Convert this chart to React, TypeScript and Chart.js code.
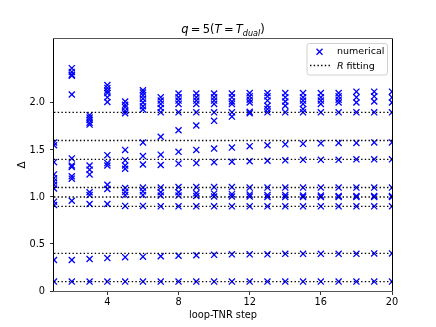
import React, { useEffect, useRef } from "react";
import { Chart, registerables } from "chart.js";

Chart.register(...registerables);

const steps = [1, 2, 3, 4, 5, 6, 7, 8, 9, 10, 11, 12, 13, 14, 15, 16, 17, 18, 19, 20];

const numericalDeltas: number[][] = [
  [1.58, 1.55, 1.37, 1.24, 1.2, 1.165, 1.13, 1.09, 0.95, 0.915, 0.33, 0.1],
  [2.37, 2.33, 2.3, 2.29, 2.09, 1.41, 1.335, 1.32, 1.22, 1.195, 0.96, 0.33, 0.1],
  [1.87, 1.845, 1.82, 1.79, 1.77, 1.335, 1.29, 1.24, 1.05, 1.02, 0.925, 0.34, 0.1],
  [2.19, 2.16, 2.13, 2.105, 2.06, 2.01, 1.445, 1.36, 1.335, 1.13, 1.085, 0.925, 0.35, 0.1],
  [2.015, 1.98, 1.955, 1.915, 1.89, 1.5, 1.39, 1.335, 1.3, 1.095, 1.055, 1.02, 0.905, 0.36, 0.1],
  [2.135, 2.11, 2.08, 2.045, 2.005, 1.965, 1.93, 1.58, 1.435, 1.345, 1.1, 1.06, 1.02, 0.905, 0.365, 0.1],
  [2.06, 2.025, 1.99, 1.945, 1.9, 1.64, 1.45, 1.34, 1.1, 1.05, 1.015, 0.9, 0.37, 0.1],
  [2.1, 2.06, 2.025, 1.99, 1.9, 1.71, 1.48, 1.355, 1.105, 1.05, 1.015, 0.9, 0.375, 0.1],
  [2.1, 2.06, 2.025, 1.99, 1.9, 1.76, 1.5, 1.36, 1.105, 1.04, 1.01, 0.9, 0.38, 0.1],
  [2.1, 2.06, 2.025, 1.99, 1.9, 1.81, 1.515, 1.37, 1.105, 1.035, 1.005, 0.9, 0.385, 0.1],
  [2.1, 2.06, 2.015, 1.99, 1.9, 1.855, 1.525, 1.375, 1.105, 1.03, 1.005, 0.9, 0.39, 0.1],
  [2.105, 2.07, 2.035, 2.005, 1.905, 1.89, 1.54, 1.38, 1.1, 1.025, 1.005, 0.9, 0.39, 0.1],
  [2.105, 2.07, 2.025, 1.97, 1.935, 1.9, 1.55, 1.385, 1.1, 1.02, 1.0, 0.9, 0.39, 0.1],
  [2.105, 2.06, 2.015, 1.97, 1.9, 1.56, 1.39, 1.1, 1.02, 1.0, 0.9, 0.395, 0.1],
  [2.105, 2.06, 2.025, 1.99, 1.935, 1.9, 1.565, 1.395, 1.1, 1.015, 1.0, 0.9, 0.395, 0.1],
  [2.105, 2.06, 2.025, 1.99, 1.9, 1.57, 1.395, 1.1, 1.015, 1.0, 0.9, 0.395, 0.1],
  [2.105, 2.07, 2.035, 2.005, 1.9, 1.575, 1.395, 1.1, 1.01, 1.0, 0.9, 0.395, 0.1],
  [2.12, 2.06, 2.005, 1.9, 1.575, 1.4, 1.1, 1.01, 1.0, 0.9, 0.395, 0.1],
  [2.12, 2.07, 2.015, 1.9, 1.58, 1.4, 1.1, 1.01, 1.0, 0.9, 0.4, 0.1],
  [2.12, 2.06, 2.005, 1.9, 1.58, 1.4, 1.1, 1.01, 1.0, 0.9, 0.4, 0.1],
];

const rFitLevels = [0.1, 0.4, 0.9, 1.0, 1.1, 1.4, 1.6, 1.9];

const xTicks = [4, 8, 12, 16, 20];
const yTicks = [0, 0.5, 1.0, 1.5, 2.0];
const xRange = [1, 20];
const yRange = [0, 2.68];

const FONT = "'DejaVu Sans', sans-serif";
const BLUE = "#0000ff";

type Part = { t: string; i?: boolean; sub?: boolean };

function drawRich(ctx: CanvasRenderingContext2D, parts: Part[], x: number, baseline: number, size: number, align: "center" | "left") {
  const fontFor = (p: Part) => `${p.i ? "italic " : ""}${p.sub ? size * 0.7 : size}px ${FONT}`;
  let total = 0;
  for (const p of parts) {
    ctx.font = fontFor(p);
    total += ctx.measureText(p.t).width;
  }
  let cx = align === "center" ? x - total / 2 : x;
  ctx.textAlign = "left";
  ctx.textBaseline = "alphabetic";
  for (const p of parts) {
    ctx.font = fontFor(p);
    ctx.fillText(p.t, cx, baseline + (p.sub ? size * 0.22 : 0));
    cx += ctx.measureText(p.t).width;
  }
}

const decorPlugin = {
  id: "decor",
  afterDraw(chart: any) {
    const ctx: CanvasRenderingContext2D = chart.ctx;
    const a = chart.chartArea;
    ctx.save();
    // spines
    ctx.lineWidth = 1;
    ctx.strokeStyle = "#000";
    ctx.beginPath();
    ctx.moveTo(Math.round(a.left) - 0.5, a.top);
    ctx.lineTo(Math.round(a.left) - 0.5, a.bottom);
    ctx.moveTo(Math.round(a.right) + 0.5, a.top);
    ctx.lineTo(Math.round(a.right) + 0.5, a.bottom);
    ctx.stroke();
    ctx.strokeStyle = "#555";
    ctx.beginPath();
    ctx.moveTo(a.left - 1, Math.round(a.top) - 0.5);
    ctx.lineTo(a.right + 1, Math.round(a.top) - 0.5);
    ctx.moveTo(a.left - 1, Math.round(a.bottom) + 0.5);
    ctx.lineTo(a.right + 1, Math.round(a.bottom) + 0.5);
    ctx.stroke();

    // title
    ctx.fillStyle = "#000";
    drawRich(
      ctx,
      [
        { t: "q", i: true },
        { t: "\u2009=\u20095(" },
        { t: "T", i: true },
        { t: "\u2009=\u2009" },
        { t: "T", i: true },
        { t: "dual", i: true, sub: true },
        { t: ")" },
      ],
      (a.left + a.right) / 2,
      a.top - 6,
      11.5,
      "center"
    );

    // legend
    const bx = 307, by = 43.5, bw = 80.5, bh = 31.5;
    ctx.fillStyle = "rgba(255,255,255,0.85)";
    ctx.strokeStyle = "#d0d0d0";
    ctx.lineWidth = 1;
    ctx.beginPath();
    (ctx as any).roundRect(bx, by, bw, bh, 2.5);
    ctx.fill();
    ctx.stroke();

    // marker
    const mx = 319.5, my = 51.8, ms = 3;
    ctx.strokeStyle = BLUE;
    ctx.lineWidth = 1.3;
    ctx.beginPath();
    ctx.moveTo(mx - ms, my - ms);
    ctx.lineTo(mx + ms, my + ms);
    ctx.moveTo(mx - ms, my + ms);
    ctx.lineTo(mx + ms, my - ms);
    ctx.stroke();

    // dotted line
    ctx.strokeStyle = "#000";
    ctx.lineWidth = 1.4;
    ctx.setLineDash([1.4, 2.3]);
    ctx.beginPath();
    ctx.moveTo(310, 65.5);
    ctx.lineTo(330, 65.5);
    ctx.stroke();
    ctx.setLineDash([]);

    ctx.fillStyle = "#000";
    ctx.font = `9.5px ${FONT}`;
    ctx.textAlign = "left";
    ctx.textBaseline = "middle";
    ctx.fillText("numerical", 337, 52);
    drawRich(ctx, [{ t: "R", i: true }, { t: " fitting" }], 337, 69, 9.5, "left");
    ctx.restore();
  },
};

export default function App() {
  const ref = useRef<HTMLCanvasElement>(null);

  useEffect(() => {
    if (!ref.current) return;
    Chart.defaults.font.family = FONT;
    const points = steps.flatMap((s, i) => numericalDeltas[i].map((v) => ({ x: s, y: v })));
    const fitSets = rFitLevels.map((v) => ({
      label: "R fitting",
      data: [
        { x: xRange[0], y: v },
        { x: xRange[1], y: v },
      ],
      showLine: true,
      borderColor: "#000",
      borderWidth: 1.4,
      borderDash: [1.4, 2.3],
      pointRadius: 0,
      pointHoverRadius: 0,
      fill: false,
      clip: 0,
      order: 0,
    }));

    const chart = new Chart(ref.current, {
      type: "scatter",
      data: {
        datasets: [
          {
            label: "numerical",
            data: points,
            pointStyle: "crossRot",
            pointRadius: 4.3,
            pointBorderColor: BLUE,
            pointBackgroundColor: BLUE,
            pointBorderWidth: 1.3,
            borderColor: BLUE,
            showLine: false,
            clip: 0,
            order: 1,
          } as any,
          ...(fitSets as any[]),
        ],
      },
      options: {
        animation: false,
        responsive: false,
        maintainAspectRatio: false,
        events: [],
        layout: { padding: { top: 39, right: 44, left: 12, bottom: 0 } },
        plugins: {
          legend: { display: false },
          tooltip: { enabled: false },
          title: { display: false },
        },
        scales: {
          x: {
            type: "linear",
            min: xRange[0],
            max: xRange[1],
            afterBuildTicks: (scale: any) => {
              scale.ticks = xTicks.map((v) => ({ value: v }));
            },
            afterFit: (scale: any) => {
              scale.height = 36;
            },
            grid: {
              drawOnChartArea: false,
              drawTicks: true,
              tickLength: 4,
              color: "#000",
              lineWidth: 0.8,
            },
            border: { display: false },
            ticks: {
              color: "#000",
              font: { size: 9.8, family: FONT },
              padding: 2,
              maxRotation: 0,
              callback: (v: any) => String(v),
            },
            title: {
              display: true,
              text: "loop-TNR step",
              color: "#000",
              font: { size: 9.8, family: FONT },
              padding: { top: 2, bottom: 6 },
            },
          },
          y: {
            type: "linear",
            min: yRange[0],
            max: yRange[1],
            afterBuildTicks: (scale: any) => {
              scale.ticks = yTicks.map((v) => ({ value: v }));
            },
            afterFit: (scale: any) => {
              scale.width = 42;
            },
            grid: {
              drawOnChartArea: false,
              drawTicks: true,
              tickLength: 4,
              color: "#000",
              lineWidth: 0.8,
            },
            border: { display: false },
            ticks: {
              color: "#000",
              font: { size: 9.8, family: FONT },
              padding: 5,
              callback: (v: any) => (v === 0 ? "0" : Number(v).toFixed(1)),
            },
            title: {
              display: true,
              text: "Δ",
              color: "#000",
              font: { size: 10.5, family: FONT },
              padding: { top: 4, bottom: 4 },
            },
          },
        },
      } as any,
      plugins: [decorPlugin],
    });
    return () => chart.destroy();
  }, []);

  return (
    <div style={{ position: "fixed", left: 0, top: 0, width: 436, height: 327, background: "#fff" }}>
      <canvas ref={ref} width={436} height={327} style={{ width: 436, height: 327, display: "block" }} />
    </div>
  );
}
